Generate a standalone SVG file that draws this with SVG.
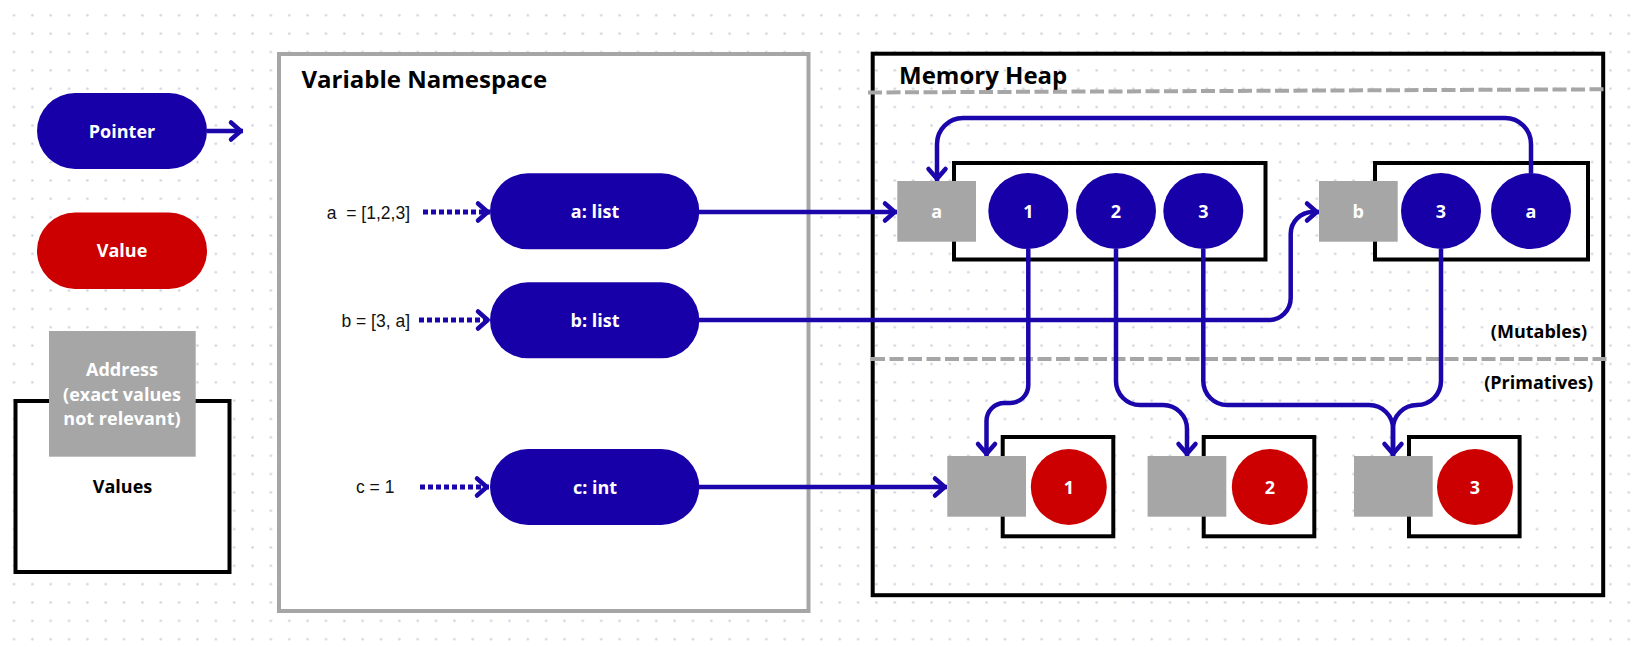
<svg xmlns="http://www.w3.org/2000/svg" width="1642" height="647" viewBox="0 0 1642 647">
<style>
.lbl{font-family:"Open Sans","Liberation Sans",sans-serif;font-weight:700;font-size:18px;fill:#fff;text-anchor:middle}
.blk{fill:#000}
.title{font-family:"Open Sans","Liberation Sans",sans-serif;font-weight:700;font-size:24px;fill:#000}
.code{font-family:"Liberation Sans",Arial,sans-serif;font-size:17.5px;fill:#111;white-space:pre}
.ptr{fill:#1800a9}
.val{fill:#cc0000}
.addr{fill:#a6a6a6}
.box{fill:#fff;stroke:#000;stroke-width:4}
.conn{fill:none;stroke:#1a06aa;stroke-width:4.5}
.dot{fill:none;stroke:#1a06aa;stroke-width:5;stroke-dasharray:5 3}
.dash{fill:none;stroke:#a6a6a6;stroke-width:4;stroke-dasharray:14 4.5}
</style>
<defs>
<pattern id="grid" patternUnits="userSpaceOnUse" x="4.825" y="6.125" width="18.35" height="18.35">
<circle cx="9.175" cy="9.175" r="1.3" fill="#cdd3e0"/>
</pattern>
<marker id="ah" markerUnits="userSpaceOnUse" viewBox="-16 -12 20 24" markerWidth="20" markerHeight="24" refX="0" refY="0" orient="auto" overflow="visible">
<path d="M-12,-8.5 L-2.3,0 L-12,8.5" fill="none" stroke="#1a06aa" stroke-width="4.5" stroke-linecap="round" stroke-linejoin="round"/>
</marker>
</defs>
<rect x="0" y="0" width="1642" height="647" fill="#fff"/>
<rect x="0" y="0" width="1642" height="647" fill="url(#grid)"/>

<g id="legend">
<g id="legend-pointer">
<rect class="ptr" x="37" y="93" width="170" height="76" rx="38"/>
<text class="lbl" x="122" y="137.5">Pointer</text>
</g>
<g id="legend-value">
<rect class="val" x="37" y="212.5" width="170" height="76.5" rx="38"/>
<text class="lbl" x="122" y="257">Value</text>
</g>
<g id="legend-values">
<rect class="box" x="15.5" y="401" width="214" height="171"/>
<rect class="addr" x="49" y="331" width="146.7" height="125.7"/>
<text class="lbl" x="122" y="376">Address</text>
<text class="lbl" x="122" y="400.5">(exact values</text>
<text class="lbl" x="122" y="425">not relevant)</text>
<text class="lbl blk" x="122.5" y="493">Values</text>
</g>
</g>

<g id="namespace">
<rect x="279" y="54" width="529.5" height="557" fill="#fff" stroke="#a6a6a6" stroke-width="4"/>
<text class="title" x="301.5" y="88">Variable Namespace</text>
</g>

<g id="heap">
<rect x="872.7" y="53.7" width="730.5" height="541.5" fill="none" stroke="#000" stroke-width="4"/>
<text class="title" x="899" y="83.5">Memory Heap</text>
<line class="dash" x1="868" y1="92.5" x2="1605" y2="89.3"/>
<line class="dash" x1="871" y1="359" x2="1607" y2="359"/>
<text class="lbl blk" x="1587" y="337.5" style="text-anchor:end">(Mutables)</text>
<text class="lbl blk" x="1593" y="388.5" style="text-anchor:end">(Primatives)</text>
</g>

<g id="code-a"><text class="code" x="410" y="219" text-anchor="end">a  = [1,2,3]</text></g>
<g id="code-b"><text class="code" x="410" y="326.5" text-anchor="end">b = [3, a]</text></g>
<g id="code-c"><text class="code" x="356" y="493">c = 1</text></g>

<g id="var-a">
<rect class="ptr" x="490" y="173.3" width="209.3" height="76" rx="38"/>
<text class="lbl" x="595" y="217.8">a: list</text>
</g>
<g id="var-b">
<rect class="ptr" x="490" y="282.3" width="209.3" height="76" rx="38"/>
<text class="lbl" x="595" y="326.8">b: list</text>
</g>
<g id="var-c">
<rect class="ptr" x="490" y="449" width="209.3" height="76" rx="38"/>
<text class="lbl" x="595" y="493.5">c: int</text>
</g>

<g id="list-a">
<rect class="box" x="954" y="163" width="311.5" height="96.5"/>
<rect class="addr" x="897.3" y="181" width="78.7" height="60.7"/>
<text class="lbl" x="936.7" y="217.5">a</text>
<ellipse class="ptr" cx="1028.3" cy="211" rx="40" ry="38"/>
<text class="lbl" x="1028.3" y="217.5">1</text>
<ellipse class="ptr" cx="1116" cy="211" rx="40" ry="38"/>
<text class="lbl" x="1116" y="217.5">2</text>
<ellipse class="ptr" cx="1203.3" cy="211" rx="40" ry="38"/>
<text class="lbl" x="1203.3" y="217.5">3</text>
</g>

<g id="list-b">
<rect class="box" x="1375" y="163" width="213" height="96.5"/>
<rect class="addr" x="1319" y="181" width="78.7" height="60.7"/>
<text class="lbl" x="1358.3" y="217.5">b</text>
<ellipse class="ptr" cx="1441" cy="211" rx="40" ry="38"/>
<text class="lbl" x="1441" y="217.5">3</text>
<ellipse class="ptr" cx="1531" cy="211" rx="40" ry="38"/>
<text class="lbl" x="1531" y="217.5">a</text>
</g>

<g id="prim-1">
<rect class="box" x="1002.7" y="437" width="110.6" height="99.3"/>
<rect class="addr" x="947.3" y="456" width="78.7" height="60.7"/>
<circle class="val" cx="1068.8" cy="487" r="38"/>
<text class="lbl" x="1068.8" y="493.5">1</text>
</g>
<g id="prim-2">
<rect class="box" x="1203.7" y="437" width="110.6" height="99.3"/>
<rect class="addr" x="1147.6" y="456" width="78.7" height="60.7"/>
<circle class="val" cx="1269.8" cy="487" r="38"/>
<text class="lbl" x="1269.8" y="493.5">2</text>
</g>
<g id="prim-3">
<rect class="box" x="1409" y="437" width="110.6" height="99.3"/>
<rect class="addr" x="1354" y="456" width="78.7" height="60.7"/>
<circle class="val" cx="1475" cy="487" r="38"/>
<text class="lbl" x="1475" y="493.5">3</text>
</g>

<g id="connectors">
<path class="conn" d="M207,131 H243" marker-end="url(#ah)"/>
<path class="dot" d="M423,212 H490" marker-end="url(#ah)"/>
<path class="dot" d="M419,320 H490" marker-end="url(#ah)"/>
<path class="dot" d="M420,487 H489" marker-end="url(#ah)"/>
<path class="conn" d="M699,212 H897" marker-end="url(#ah)"/>
<path class="conn" d="M699,320 H1268 A22,22 0 0 0 1290.7,298 V234 A22,22 0 0 1 1312.7,212 H1319" marker-end="url(#ah)"/>
<path class="conn" d="M699,487 H947" marker-end="url(#ah)"/>
<path class="conn" d="M1531,173 V144 A26,26 0 0 0 1505,118 H963 A26,26 0 0 0 937,144 V181" marker-end="url(#ah)"/>
<path class="conn" d="M1028.3,249 V385 A18,18 0 0 1 1010.3,403 H1004.5 A18,18 0 0 0 986.5,421 V456" marker-end="url(#ah)"/>
<path class="conn" d="M1116,249 V381 A24,24 0 0 0 1140,405 H1163 A24,24 0 0 1 1187,429 V456" marker-end="url(#ah)"/>
<path class="conn" d="M1203.3,249 V381 A24,24 0 0 0 1227.3,405 H1369 A24,24 0 0 1 1393,429 V456" marker-end="url(#ah)"/>
<path class="conn" d="M1441,249 V381 A24,24 0 0 1 1417,405 A24,24 0 0 0 1393,429 V456"/>
</g>
</svg>
